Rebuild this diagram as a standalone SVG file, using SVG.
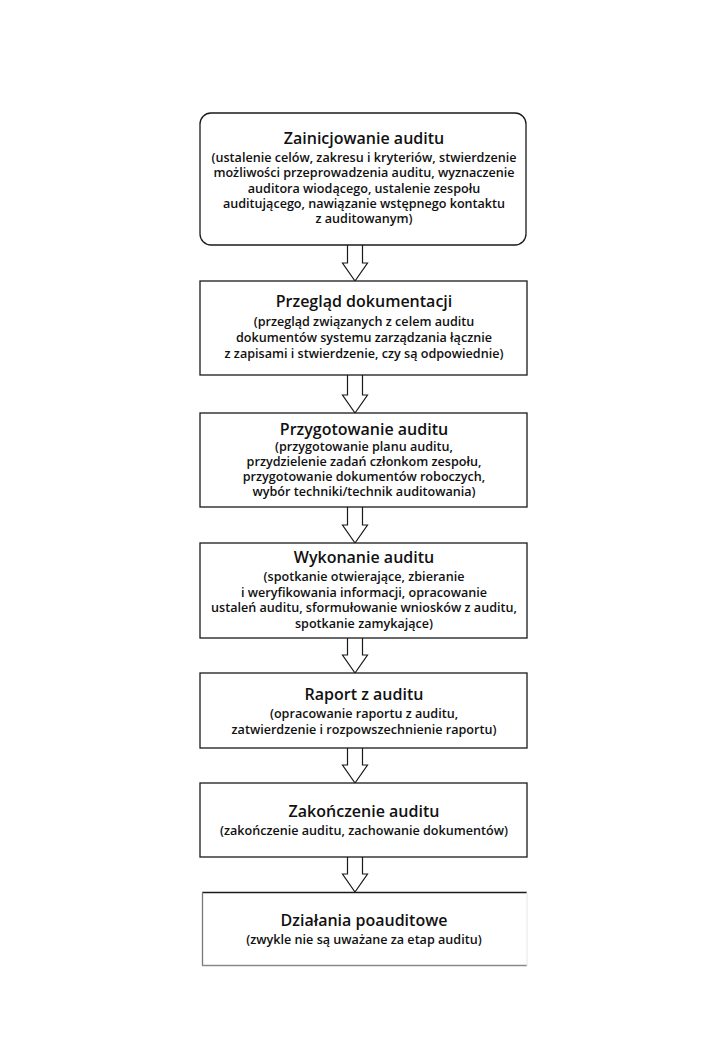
<svg xmlns="http://www.w3.org/2000/svg" width="727" height="1050" viewBox="0 0 727 1050">
<style>
.box{fill:#fff;stroke:#1a1a1a;stroke-width:1.3}
.arr{fill:#fff;stroke:#1a1a1a;stroke-width:1.2;stroke-linejoin:miter}
.t{font-family:"Open Sans","Noto Sans",sans-serif;font-weight:600;font-size:16px;fill:#111;text-anchor:middle}
.b{font-family:"Open Sans","Noto Sans",sans-serif;font-weight:600;font-size:12.6px;fill:#111;text-anchor:middle}
</style>
<rect width="727" height="1050" fill="#fff"/>
<g id="connectors">
<path class="arr" d="M347.5,245 V263 H342.5 L355,281 L367.5,263 H362.5 V245"/>
<path class="arr" d="M347.5,375 V395 H342.5 L355,413 L367.5,395 H362.5 V375"/>
<path class="arr" d="M347.5,507 V525 H342.5 L355,543 L367.5,525 H362.5 V507"/>
<path class="arr" d="M347.5,638 V655 H342.5 L355,673 L367.5,655 H362.5 V638"/>
<path class="arr" d="M347.5,748 V765 H342.5 L355,783 L367.5,765 H362.5 V748"/>
<path class="arr" d="M347.5,857 V874 H342.5 L355,892 L367.5,874 H362.5 V857"/>
</g>
<g id="n1">
<rect class="box" x="200" y="113" width="326" height="132" rx="11"/>
<text class="t" x="364" y="144">Zainicjowanie auditu</text>
<text class="b" x="364" y="162">(ustalenie celów, zakresu i kryteriów, stwierdzenie</text>
<text class="b" x="364" y="177">możliwości przeprowadzenia auditu, wyznaczenie</text>
<text class="b" x="364" y="193">auditora wiodącego, ustalenie zespołu</text>
<text class="b" x="364" y="208">auditującego, nawiązanie wstępnego kontaktu</text>
<text class="b" x="364" y="223">z auditowanym)</text>
</g>
<g id="n2">
<rect class="box" x="200" y="281" width="327" height="94"/>
<text class="t" x="364" y="307">Przegląd dokumentacji</text>
<text class="b" x="364" y="326">(przegląd związanych z celem auditu</text>
<text class="b" x="364" y="342">dokumentów systemu zarządzania łącznie</text>
<text class="b" x="364" y="358">z zapisami i stwierdzenie, czy są odpowiednie)</text>
</g>
<g id="n3">
<rect class="box" x="200" y="413" width="327" height="94"/>
<text class="t" x="364" y="435">Przygotowanie auditu</text>
<text class="b" x="364" y="451">(przygotowanie planu auditu,</text>
<text class="b" x="364" y="466">przydzielenie zadań członkom zespołu,</text>
<text class="b" x="364" y="481">przygotowanie dokumentów roboczych,</text>
<text class="b" x="364" y="496">wybór techniki/technik auditowania)</text>
</g>
<g id="n4">
<rect class="box" x="200" y="543" width="327" height="95"/>
<text class="t" x="364" y="563">Wykonanie auditu</text>
<text class="b" x="364" y="581">(spotkanie otwierające, zbieranie</text>
<text class="b" x="364" y="597">i weryfikowania informacji, opracowanie</text>
<text class="b" x="364" y="612">ustaleń auditu, sformułowanie wniosków z auditu,</text>
<text class="b" x="364" y="628">spotkanie zamykające)</text>
</g>
<g id="n5">
<rect class="box" x="200" y="673" width="327" height="75"/>
<text class="t" x="364" y="700">Raport z auditu</text>
<text class="b" x="364" y="718">(opracowanie raportu z auditu,</text>
<text class="b" x="364" y="734">zatwierdzenie i rozpowszechnienie raportu)</text>
</g>
<g id="n6">
<rect class="box" x="200" y="783" width="327" height="74"/>
<text class="t" x="364" y="817">Zakończenie auditu</text>
<text class="b" x="364" y="835">(zakończenie auditu, zachowanie dokumentów)</text>
</g>
<g id="n7">
<rect x="202" y="892" width="325" height="74" fill="#fff"/>
<line x1="202" y1="892.5" x2="527" y2="892.5" stroke="#1a1a1a" stroke-width="1.3"/>
<line x1="202.5" y1="892" x2="202.5" y2="966" stroke="#777" stroke-width="1.3"/>
<line x1="202" y1="965.5" x2="527" y2="965.5" stroke="#888" stroke-width="1.3"/>
<line x1="527" y1="892" x2="527" y2="966" stroke="#e6e6e6" stroke-width="1"/>
<text class="t" x="364" y="926">Działania poauditowe</text>
<text class="b" x="364" y="944">(zwykle nie są uważane za etap auditu)</text>
</g>
</svg>
